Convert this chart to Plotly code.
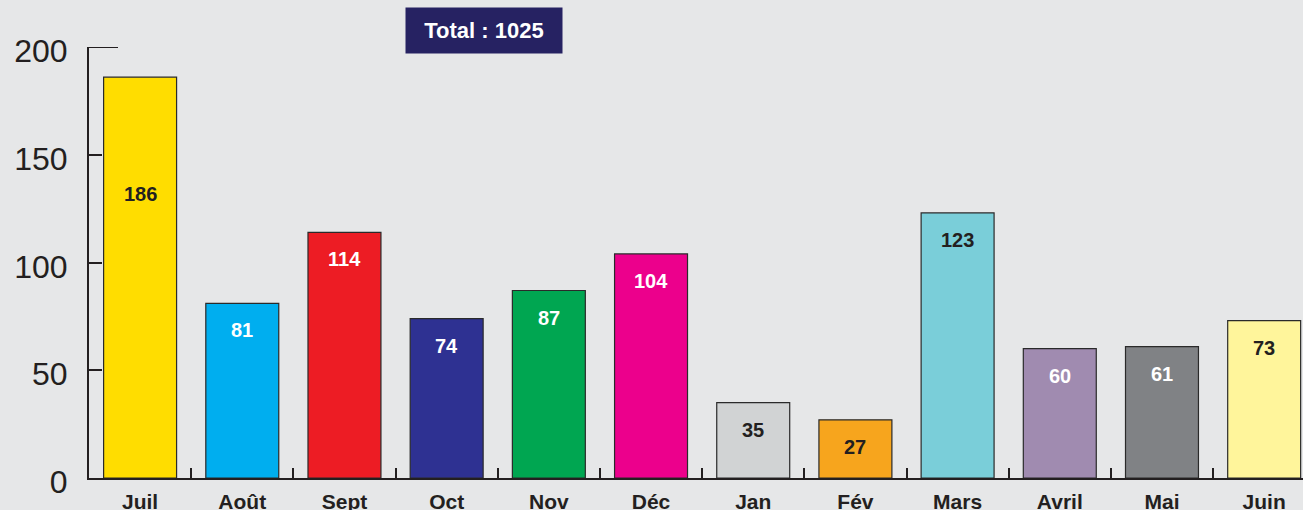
import plotly.graph_objects as go

months = ["Juil", "Août", "Sept", "Oct", "Nov", "Déc", "Jan", "Fév", "Mars", "Avril", "Mai", "Juin"]
values = [186, 81, 114, 74, 87, 104, 35, 27, 123, 60, 61, 73]
bar_colors = ["#FFDD00", "#00AEEF", "#ED1C24", "#2E3192", "#00A651", "#EC008C",
              "#D1D3D4", "#F7A51D", "#7ACED9", "#A08BB0", "#808285", "#FFF59B"]
label_colors = ["#231F20", "white", "white", "white", "white", "white",
                "#231F20", "#231F20", "#231F20", "white", "white", "#231F20"]
label_shift = [-117, -27, -27, -27, -27, -27, -27, -27, -27, -27, -27, -27]
y_ticks = [0, 50, 100, 150, 200]
total_text = "Total : 1025"

ink = "#231F20"
bg = "#E6E7E8"

fig = go.Figure()
fig.add_trace(go.Bar(
    x=months, y=values, width=0.714,
    marker=dict(color=bar_colors, line=dict(color="#2a2a2a", width=1.2)),
    hoverinfo="x+y",
))

for m, v, c, s in zip(months, values, label_colors, label_shift):
    fig.add_annotation(x=m, y=v, yshift=s, text=str(v), showarrow=False,
                       font=dict(family="Liberation Sans, Arial", size=20, color=c, weight="bold"),
                       xanchor="center", yanchor="middle")

fig.add_annotation(xref="paper", yref="paper", x=(484 - 89) / 1214, y=(478 - 30.5) / 431,
                   text=total_text, showarrow=False, bgcolor="#262262",
                   width=156, height=45, borderpad=0,
                   font=dict(family="Liberation Sans, Arial", size=22,
                             color="white", weight="bold"),
                   xanchor="center", yanchor="middle")

fig.add_shape(type="line", xref="paper", yref="y", x0=0, x1=(118 - 89) / 1214, y0=200, y1=200,
              line=dict(color=ink, width=2))

fig.update_layout(
    width=1303, height=510,
    margin=dict(l=89, r=0, t=47, b=32, autoexpand=False),
    paper_bgcolor=bg, plot_bgcolor=bg,
    showlegend=False,
    bargap=0.286,
    xaxis=dict(type="category", categoryorder="array", categoryarray=months,
               range=[-0.5, 11.38], tickson="boundaries", ticks="inside", ticklen=10,
               tickwidth=2, tickcolor=ink, showline=True, linewidth=2, linecolor=ink,
               showgrid=False, zeroline=False, ticklabelstandoff=4, automargin=False,
               tickfont=dict(family="Liberation Sans, Arial", size=21, color=ink, weight="bold")),
    yaxis=dict(range=[0, 200], tickvals=y_ticks, ticks="inside", ticklen=13, tickwidth=2,
               tickcolor=ink, showline=True, linewidth=2, linecolor=ink, showgrid=False,
               zeroline=False, ticklabelstandoff=13, ticklabelshift=4, automargin=False,
               tickfont=dict(family="Liberation Sans, Arial", size=32, color=ink)),
)

fig.write_html("out.html", config={"displayModeBar": False},
               post_script="document.body.style.margin='0';document.body.style.background='#E6E7E8';")
